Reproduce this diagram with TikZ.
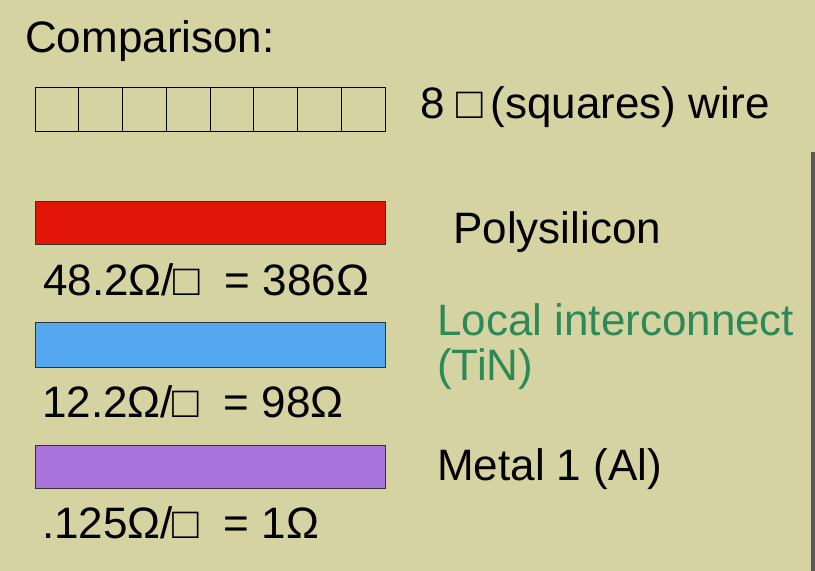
\documentclass[tikz,border=0pt]{standalone}
\usepackage{fontspec}
\setmainfont{Liberation Sans}
\definecolor{slidebg}{RGB}{214,211,163}
\definecolor{polyred}{RGB}{226,22,8}
\definecolor{tinblue}{RGB}{85,168,240}
\definecolor{alpurple}{RGB}{168,116,220}
\definecolor{tingreen}{RGB}{44,138,88}
\tikzset{
  lbl/.style={anchor=base west, inner sep=0pt, font=\fontsize{44}{50}\selectfont},
  bar/.style={draw=black!80, line width=1pt},
}
\begin{document}
\begin{tikzpicture}[x=1pt,y=-1pt]
  \fill[slidebg] (0,0) rectangle (815,571);
  \useasboundingbox (0,0) rectangle (815,571);
  \fill[black!65] (811,152) rectangle (815,571);
  % heading and the 8 square wire
  \node[lbl] (title) at (25,52) {Comparison:};
  \foreach \i in {0,...,7}
    \draw[line width=1pt] (35+\i*43.75,87) rectangle ++(43.75,44);
  \node[lbl] (wire) at (420,118) {8 □\,(squares) wire};
  % polysilicon
  \draw[bar, fill=polyred] (35,201) rectangle (385,244);
  \node[lbl] (poly) at (453,243) {Polysilicon};
  \node[lbl] (polyr) at (43,295) {48.2Ω/□\ \ = 386Ω};
  % local interconnect
  \draw[bar, fill=tinblue] (35,322) rectangle (385,367);
  \node[lbl, text=tingreen] (lic) at (437,335) {Local interconnect};
  \node[lbl, text=tingreen] (tin) at (437,380) {(TiN)};
  \node[lbl] (licr) at (42,417) {12.2Ω/□\ \ = 98Ω};
  % metal 1
  \draw[bar, fill=alpurple] (35,445) rectangle (385,488);
  \node[lbl] (metal) at (437,480) {Metal 1 (Al)};
  \node[lbl] (metalr) at (42,538) {.125Ω/□\ \ = 1Ω};
\end{tikzpicture}
\end{document}
